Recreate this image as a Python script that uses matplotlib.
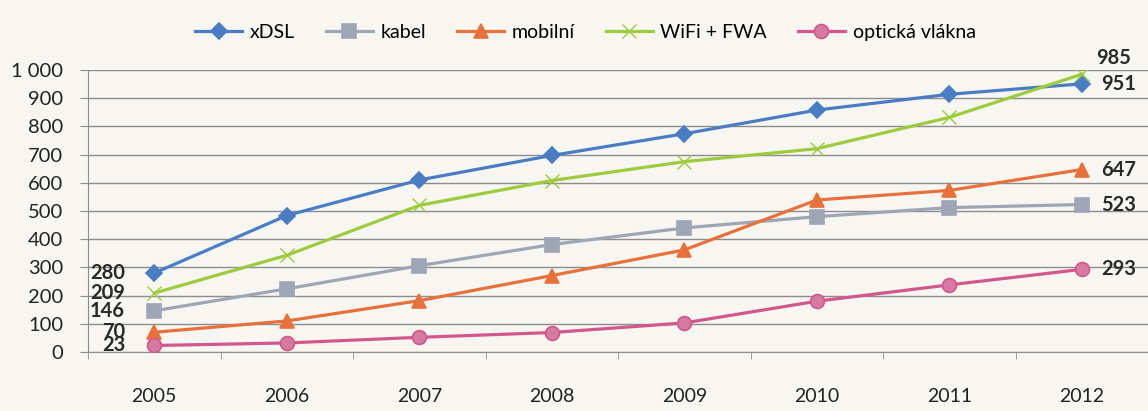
import matplotlib
matplotlib.use("Agg")
import matplotlib.pyplot as plt
from matplotlib.ticker import FuncFormatter

plt.rcParams['font.family'] = ['Lato', 'DejaVu Sans']

years = ['2005', '2006', '2007', '2008', '2009', '2010', '2011', '2012']

xdsl = [280, 484, 610, 697, 774, 858, 914, 951]
kabel = [146, 224, 306, 381, 440, 480, 512, 523]
mobilni = [70, 110, 182, 271, 362, 539, 573, 647]
wifi = [209, 343, 520, 608, 675, 721, 832, 985]
opticka = [23, 32, 52, 69, 103, 180, 238, 293]

names = ['xDSL', 'kabel', 'mobilní', 'WiFi + FWA', 'optická vlákna']

bg = '#f7f6f1'
fig = plt.figure(figsize=(11.48, 4.11), dpi=100, facecolor=bg)
ax = fig.add_axes([0.0767, 0.1436, 0.9233, 0.686], facecolor=bg)

x = list(range(len(years)))

# series: values, colour, marker, marker size, face colour
series = [
    (xdsl, '#4a7cc4', 'D', 8, '#4a7cc4'),
    (kabel, '#9ea6b6', 's', 10, '#9ea6b6'),
    (mobilni, '#e8703a', '^', 10, '#e8703a'),
    (wifi, '#9dcb3e', 'x', 10, '#9dcb3e'),
    (opticka, '#d2578c', 'o', 10, '#d67ba0'),
]

handles = []
for (vals, col, mk, ms, fc), name in zip(series, names):
    mew = 1.0 if mk == 'x' else 1.2
    h, = ax.plot(x, vals, color=col, lw=2.3, marker=mk, ms=ms,
                 markerfacecolor=fc, markeredgecolor=col, markeredgewidth=mew,
                 label=name, zorder=3)
    handles.append(h)

ax.set_xlim(-0.478, 7.44)
ax.set_ylim(0, 1000)
ax.set_yticks(range(0, 1001, 100))
ax.yaxis.set_major_formatter(FuncFormatter(lambda v, p: '1 000' if v == 1000 else '%d' % v))
ax.grid(axis='y', color='#8c8c8c', lw=1.0, zorder=1)
ax.tick_params(axis='y', length=6, color='#8c8c8c', pad=12, labelsize=14.5, labelcolor='#222222')

ax.set_xticks(x)
ax.set_xticklabels(years)
ax.set_xticks([i + 0.5 for i in range(-1, 8)], minor=True)
ax.tick_params(axis='x', which='major', length=0, pad=26, labelsize=14, labelcolor='#222222')
ax.tick_params(axis='x', which='minor', length=5, color='#8c8c8c', direction='out')

for s in ['top', 'right']:
    ax.spines[s].set_visible(False)
ax.spines['left'].set_color('#8c8c8c')
ax.spines['bottom'].set_color('#8c8c8c')

# data labels at first and last year
lab_kw = dict(textcoords='offset points', fontsize=14.5, fontweight='bold', color='#2a2a2a', va='center')
for vals, _, _, _, _ in series:
    ax.annotate(str(vals[0]), (0, vals[0]), xytext=(-21, 0), ha='right', **lab_kw)
for vals, _, _, _, _ in series:
    dy = 12 if vals is wifi else 0
    dx = 10 if vals is wifi else 14
    ax.annotate(str(vals[-1]), (7, vals[-1]), xytext=(dx, dy), ha='left', **lab_kw)

fig.legend(handles=handles, loc='upper center', bbox_to_anchor=(0.51, 0.985), ncol=5,
           frameon=False, fontsize=14, handlelength=2.4, handletextpad=0.4,
           columnspacing=1.6)

plt.savefig('out.png', dpi=100, facecolor=bg)
